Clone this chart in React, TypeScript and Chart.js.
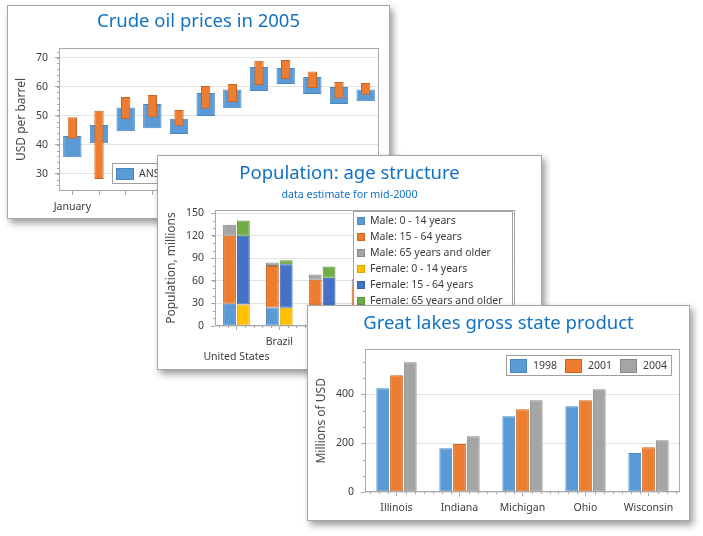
import React, { useEffect, useRef } from 'react';
import { Chart, registerables } from 'chart.js';

Chart.register(...registerables);
Chart.defaults.font.family = '"Noto Sans", sans-serif';

// ---------- Data: Crude oil prices in 2005 ----------
const months = ['January', 'February', 'March', 'April', 'May', 'June', 'July', 'August', 'September', 'October', 'November', 'December'];
const ansLow = [35.7, 40.5, 44.7, 45.7, 43.7, 49.9, 52.6, 58.5, 60.9, 57.5, 54.0, 55.0];
const ansHigh = [43.0, 46.8, 52.8, 54.0, 49.0, 57.8, 59.0, 66.8, 66.4, 63.3, 59.9, 59.0];
const wtiLow = [42.1, 28.2, 48.9, 49.5, 46.4, 52.4, 54.7, 60.6, 62.6, 59.5, 55.9, 57.2];
const wtiHigh = [49.5, 51.7, 56.4, 57.1, 52.0, 60.2, 60.9, 68.9, 69.2, 65.2, 61.6, 61.3];
const oilTicks = [30, 40, 50, 60, 70];

// ---------- Data: Population age structure (millions) ----------
const countries = ['United States', 'Brazil', 'Russia', 'Japan', 'Mexico', 'Germany', 'United Kingdom'];
const male0to14 = [29.5, 24.6, 13.9, 9.6, 16.8, 6.4, 5.7];
const male15to64 = [90.6, 55.4, 47.7, 42.8, 29.1, 28.4, 19.3];
const male65plus = [14.5, 4.5, 7.0, 9.7, 2.1, 5.4, 3.8];
const female0to14 = [28.6, 24.2, 13.3, 9.1, 16.3, 6.1, 5.4];
const female15to64 = [91.4, 58.1, 50.9, 43.0, 31.4, 27.2, 19.1];
const female65plus = [20.3, 5.2, 15.0, 13.2, 2.5, 8.6, 5.4];
const popTicks = [0, 30, 60, 90, 120, 150];

// ---------- Data: Great lakes gross state product ----------
const states = ['Illinois', 'Indiana', 'Michigan', 'Ohio', 'Wisconsin'];
const gsp1998 = [424.5, 179.6, 310.2, 351.0, 160.5];
const gsp2001 = [477.6, 197.3, 338.8, 375.5, 183.7];
const gsp2004 = [530.6, 228.6, 375.5, 420.4, 212.2];
const gspTicks = [0, 200, 400];

// ---------- Styles ----------
const AXIS = '#A8A8A8';
const GRID = '#E3E3E3';
const TEXT = '#3C3C3C';
const TITLE = '#1172C4';
const LEG_FONT = 10.5;

const BLUE = '#5B9BD5', BLUE_B = '#4A86C0';
const ORANGE = '#ED7D31', ORANGE_B = '#C9651F';
const GRAY = '#A5A5A5', GRAY_B = '#878787';
const YELLOW = '#FFC000', YELLOW_B = '#DDA500';
const DBLUE = '#4472C4', DBLUE_B = '#3760A8';
const GREEN = '#70AD47', GREEN_B = '#5C943A';

function drawLegend(chart: any, cfg: any) {
  const { ctx, chartArea: a } = chart;
  const ds = chart.data.datasets;
  ctx.save();
  ctx.font = `${LEG_FONT}px "Noto Sans", sans-serif`;
  ctx.textBaseline = 'middle';
  ctx.textAlign = 'left';
  const widths = ds.map((d: any) => ctx.measureText(d.label).width);
  let W: number, H: number;
  if (cfg.dir === 'h') {
    W = cfg.padL + widths.reduce((s: number, w: number) => s + cfg.swW + cfg.gap + w, 0) + cfg.itemGap * (ds.length - 1) + cfg.padR;
    H = cfg.h;
  } else {
    W = cfg.padL + cfg.swW + cfg.gap + Math.max(...widths) + cfg.padR;
    H = cfg.padT + ds.length * cfg.rowH + cfg.padB;
  }
  let x0: number, y0: number;
  if (cfg.align === 'left-bottom') {
    x0 = a.left + cfg.offX;
    y0 = a.bottom - cfg.offY - H;
  } else {
    x0 = a.right - cfg.offX - W;
    y0 = a.top + cfg.offY;
  }
  x0 = Math.round(x0); y0 = Math.round(y0); W = Math.round(W); H = Math.round(H);
  ctx.fillStyle = '#ffffff';
  ctx.fillRect(x0, y0, W, H);
  ctx.lineWidth = 1;
  ctx.strokeStyle = '#A0A0A0';
  ctx.strokeRect(x0 + 0.5, y0 + 0.5, W - 1, H - 1);
  let cx = x0 + cfg.padL;
  ds.forEach((d: any, i: number) => {
    let sx: number, cy: number;
    if (cfg.dir === 'h') {
      sx = cx;
      cy = y0 + H / 2;
      cx += cfg.swW + cfg.gap + widths[i] + cfg.itemGap;
    } else {
      sx = x0 + cfg.padL;
      cy = y0 + cfg.padT + cfg.rowH * (i + 0.5);
    }
    const sy = Math.round(cy - cfg.swH / 2);
    sx = Math.round(sx);
    ctx.fillStyle = d.backgroundColor;
    ctx.fillRect(sx, sy, cfg.swW, cfg.swH);
    ctx.strokeStyle = d.borderColor;
    ctx.strokeRect(sx + 0.5, sy + 0.5, cfg.swW - 1, cfg.swH - 1);
    ctx.fillStyle = TEXT;
    ctx.fillText(d.label, sx + cfg.swW + cfg.gap, cy + 0.5);
  });
  ctx.restore();
}

const framePlugin = {
  id: 'frame',
  afterDraw(chart: any, _args: any, opts: any) {
    const { ctx, chartArea: a } = chart;
    const xs = chart.scales.x;
    const ys = chart.scales.y;
    ctx.save();
    ctx.lineWidth = 1;
    ctx.strokeStyle = AXIS;
    if (opts.yMinor) {
      const step = opts.yMinor;
      for (let i = Math.ceil(ys.min / step - 1e-9); i * step <= ys.max + 1e-9; i++) {
        const y = Math.round(ys.getPixelForValue(i * step)) + 0.5;
        ctx.beginPath();
        ctx.moveTo(a.left - 2, y);
        ctx.lineTo(a.left, y);
        ctx.stroke();
      }
    }
    if (opts.xMinor) {
      const n = chart.data.labels.length;
      const w = (a.right - a.left) / n;
      const c0 = xs.getPixelForValue(0);
      for (let i = -1; i < n; i++) {
        for (let k = 1; k < opts.xMinor; k++) {
          const x = c0 + (i + k / opts.xMinor) * w;
          if (x <= a.left + 1 || x >= a.right - 1) continue;
          const px = Math.round(x) + 0.5;
          ctx.beginPath();
          ctx.moveTo(px, a.bottom);
          ctx.lineTo(px, a.bottom + 2);
          ctx.stroke();
        }
      }
    }
    ctx.strokeRect(Math.round(a.left) + 0.5, Math.round(a.top) + 0.5, Math.round(a.right - a.left) - 1, Math.round(a.bottom - a.top) - 1);
    ctx.restore();
    if (opts.legend) drawLegend(chart, opts.legend);
  },
};

function titleOpt(text: string, top: number, bottom: number) {
  return { display: true, text, color: TITLE, font: { size: 18.5, weight: 'normal' }, padding: { top, bottom } };
}

function xAxis(h: number, pad: number, callback?: any, lineHeight = 1.2, stacked = false) {
  const ticks: any = { autoSkip: false, maxRotation: 0, minRotation: 0, padding: pad, color: TEXT, font: { size: 10.5, lineHeight } };
  if (callback) ticks.callback = callback;
  return {
    type: 'category',
    stacked,
    offset: true,
    afterFit: (s: any) => { s.height = h; },
    grid: { display: true, drawOnChartArea: false, drawTicks: true, tickLength: 4, color: AXIS, tickColor: AXIS, offset: false },
    border: { display: false },
    ticks,
  };
}

function yAxis(min: number, max: number, tickVals: number[], w: number, title: string, titlePad: number, stacked = false) {
  return {
    type: 'linear',
    position: 'left',
    min,
    max,
    stacked,
    afterFit: (s: any) => { s.width = w; },
    afterBuildTicks: (s: any) => { s.ticks = tickVals.map((v) => ({ value: v })); },
    grid: { color: GRID, tickColor: AXIS, tickLength: 4, drawTicks: true },
    border: { display: false },
    ticks: { padding: 7, color: TEXT, font: { size: 10.5 } },
    title: { display: true, text: title, color: '#4A4A4A', font: { size: 12 }, padding: { top: titlePad, bottom: 0 } },
  };
}

function spacer(w: number) {
  return {
    type: 'linear',
    axis: 'y',
    position: 'right',
    display: true,
    afterFit: (s: any) => { s.width = w; },
    grid: { display: false, drawTicks: false },
    border: { display: false },
    ticks: { display: false },
  };
}

const common = { responsive: false, animation: false, devicePixelRatio: 1, layout: { padding: 0 } };

function oilConfig(): any {
  return {
    type: 'bar',
    data: {
      labels: months,
      datasets: [
        { label: 'ANS crude oil', data: months.map((_, i) => [ansLow[i], ansHigh[i]]), backgroundColor: BLUE, borderColor: BLUE_B, borderWidth: 1, borderSkipped: false, grouped: false, categoryPercentage: 1, barPercentage: 0.69, order: 2 },
        { label: 'WTI crude oil', data: months.map((_, i) => [wtiLow[i], wtiHigh[i]]), backgroundColor: ORANGE, borderColor: ORANGE_B, borderWidth: 1, borderSkipped: false, grouped: false, categoryPercentage: 1, barPercentage: 0.35, order: 1 },
      ],
    },
    options: {
      ...common,
      plugins: {
        legend: { display: false },
        tooltip: { enabled: false },
        title: titleOpt('Crude oil prices in 2005', 4.7, 15.1),
        frame: {
          yMinor: 2,
          legend: { dir: 'h', align: 'left-bottom', offX: 53, offY: 7, h: 21, swW: 18, swH: 12, padL: 4, padR: 6, gap: 5, itemGap: 10 },
        },
      },
      scales: {
        x: xAxis(27, 6, (_v: any, i: number) => (i % 4 === 0 ? months[i] : '')),
        y: yAxis(24.1, 73.3, oilTicks, 51, 'USD per barrel', 6.5),
        y2: spacer(10),
      },
    },
    plugins: [framePlugin],
  };
}

function popConfig(): any {
  const mk = (label: string, data: number[], bg: string, bc: string, stack: string) => ({
    label, data, backgroundColor: bg, borderColor: bc, borderWidth: 1, borderSkipped: false, stack, categoryPercentage: 0.645, barPercentage: 0.93,
  });
  return {
    type: 'bar',
    data: {
      labels: countries,
      datasets: [
        mk('Male: 0 - 14 years', male0to14, BLUE, BLUE_B, 'male'),
        mk('Male: 15 - 64 years', male15to64, ORANGE, ORANGE_B, 'male'),
        mk('Male: 65 years and older', male65plus, GRAY, GRAY_B, 'male'),
        mk('Female: 0 - 14 years', female0to14, YELLOW, YELLOW_B, 'female'),
        mk('Female: 15 - 64 years', female15to64, DBLUE, DBLUE_B, 'female'),
        mk('Female: 65 years and older', female65plus, GREEN, GREEN_B, 'female'),
      ],
    },
    options: {
      ...common,
      plugins: {
        legend: { display: false },
        tooltip: { enabled: false },
        title: titleOpt('Population: age structure', 6.4, 0),
        subtitle: { display: true, text: 'data estimate for mid-2000', color: TITLE, font: { size: 10.7, weight: 'normal' }, padding: { top: 3.5, bottom: 9.1 } },
        frame: {
          yMinor: 10,
          xMinor: 5,
          legend: { dir: 'v', align: 'right-top', offX: 2, offY: 1, swW: 8, swH: 8, padL: 4, padR: 10, gap: 5, padT: 1.7, padB: 3, rowH: 16 },
        },
      },
      scales: {
        x: xAxis(43, 4.2, (_v: any, i: number) => (i % 2 === 0 ? ['', countries[i]] : countries[i]), 15 / 10.5, true),
        y: yAxis(0, 154.3, popTicks, 57, 'Population, millions', 6.8, true),
        y2: spacer(26),
      },
    },
    plugins: [framePlugin],
  };
}

function gspConfig(): any {
  const mk = (label: string, data: number[], bg: string, bc: string) => ({
    label, data, backgroundColor: bg, borderColor: bc, borderWidth: 1, borderSkipped: false, categoryPercentage: 0.655, barPercentage: 0.93,
  });
  return {
    type: 'bar',
    data: {
      labels: states,
      datasets: [
        mk('1998', gsp1998, BLUE, BLUE_B),
        mk('2001', gsp2001, ORANGE, ORANGE_B),
        mk('2004', gsp2004, GRAY, GRAY_B),
      ],
    },
    options: {
      ...common,
      plugins: {
        legend: { display: false },
        tooltip: { enabled: false },
        title: titleOpt('Great lakes gross state product', 6.7, 14.4),
        frame: {
          yMinor: 200 / 3,
          xMinor: 7,
          legend: { dir: 'h', align: 'right-top', offX: 8, offY: 6, h: 21, swW: 17, swH: 14, padL: 4, padR: 5, gap: 6, itemGap: 8 },
        },
      },
      scales: {
        x: xAxis(27.7, 5.1),
        y: yAxis(0, 583.7, gspTicks, 57, 'Millions of USD', 6.8),
        y2: spacer(9),
      },
    },
    plugins: [framePlugin],
  };
}

function Panel({ left, top, width, height, config }: { left: number; top: number; width: number; height: number; config: () => any }) {
  const ref = useRef<HTMLCanvasElement>(null);
  useEffect(() => {
    const chart = new Chart(ref.current as HTMLCanvasElement, config());
    return () => chart.destroy();
  }, []);
  return (
    <div
      style={{
        position: 'absolute',
        left,
        top,
        width,
        height,
        boxSizing: 'border-box',
        border: '1px solid #A6A6A6',
        background: '#ffffff',
        boxShadow: '3px 4px 7px rgba(0,0,0,0.4)',
      }}
    >
      <canvas ref={ref} width={width - 2} height={height - 2} style={{ display: 'block', width: width - 2, height: height - 2 }} />
    </div>
  );
}

export default function App() {
  return (
    <div style={{ position: 'absolute', left: 0, top: 0, width: 703, height: 536, background: '#ffffff', overflow: 'hidden' }}>
      <Panel left={7} top={5} width={383} height={214} config={oilConfig} />
      <Panel left={157} top={155} width={385} height={215} config={popConfig} />
      <Panel left={307} top={305} width={383} height={216} config={gspConfig} />
    </div>
  );
}
